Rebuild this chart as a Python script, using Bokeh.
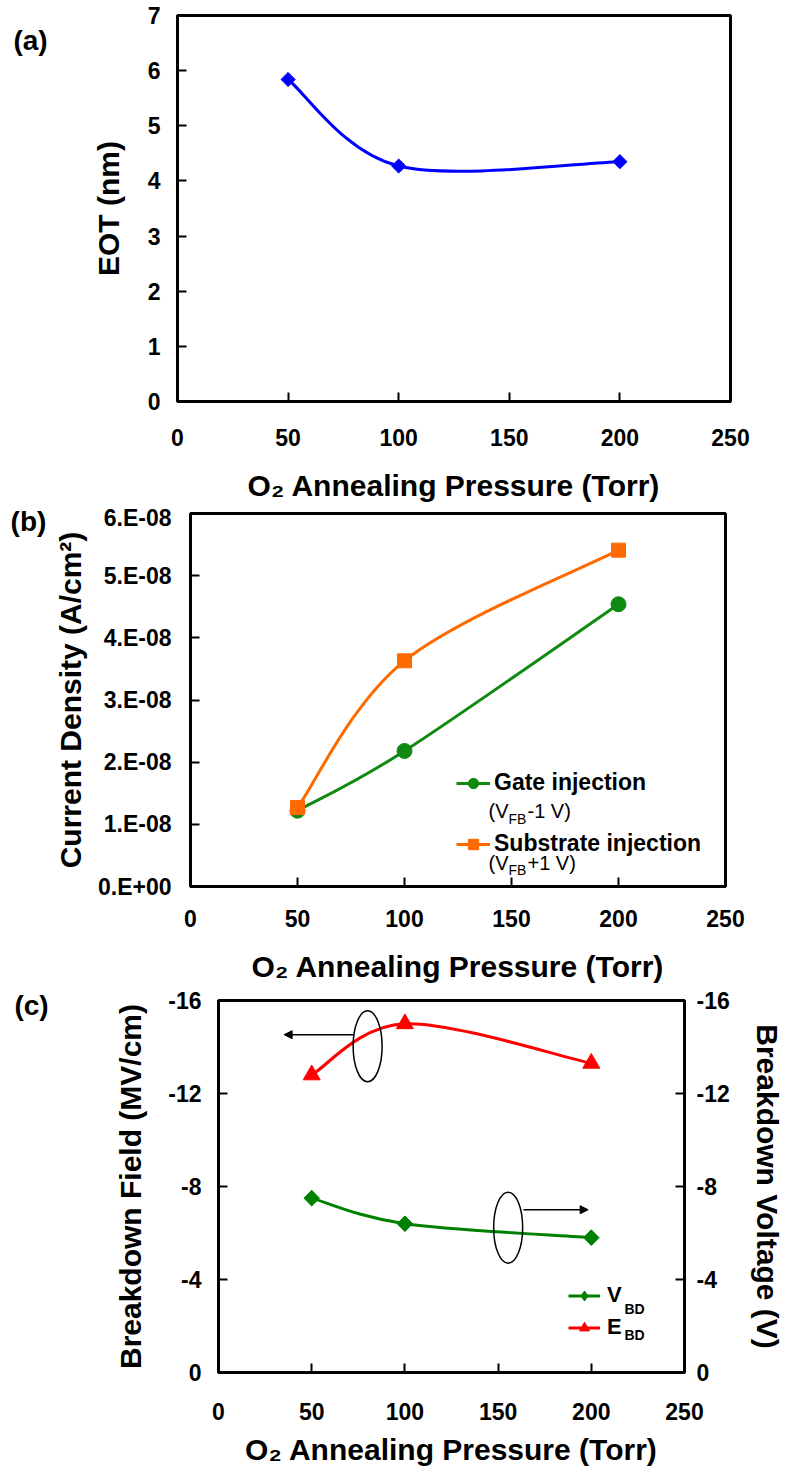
import numpy as np
from bokeh.plotting import figure
from bokeh.models import (Range1d, FixedTicker, LinearAxis, Label, Legend, LegendItem,
                          Arrow, NormalHead, CustomJSTickFormatter, ColumnDataSource)
from bokeh.embed import file_html
from bokeh.resources import INLINE

FONT = "Liberation Sans"

# ---------------- data ----------------
pressure = [50, 100, 200]                  # O2 annealing pressure (Torr)
eot_nm = [5.84, 4.27, 4.35]                # (a) EOT
j_gate = [1.22e-8, 2.18e-8, 4.54e-8]       # (b) gate injection
j_sub = [1.27e-8, 3.63e-8, 5.41e-8]        # (b) substrate injection
e_bd = [-12.8, -15.0, -13.3]               # (c) breakdown field (MV/cm)
v_bd = [-7.5, -6.4, -5.8]                  # (c) breakdown voltage (V)

x_ticks = [0, 50, 100, 150, 200, 250]
eot_ticks = [0, 1, 2, 3, 4, 5, 6, 7]
j_ticks = [0, 1e-8, 2e-8, 3e-8, 4e-8, 5e-8, 6e-8]
bd_ticks = [-16, -12, -8, -4, 0]

# annotation ellipses / arrows in panel (c)
ell_x = [80.0, 155.4]
ell_y = [-14.03, -6.23]
arr_x_start = [72.2, 163.6]
arr_x_end = [35.2, 198.3]
arr_y = [-14.53, -7.0]


def smooth_source(xs, ys):
    """Bezier segments (Excel-like smoothed line) through the data points."""
    n = len(xs)
    d = {k: [] for k in ("x0", "y0", "x1", "y1", "cx0", "cy0", "cx1", "cy1")}
    for i in range(n - 1):
        ia = max(i - 1, 0)
        ib = min(i + 2, n - 1)
        d["x0"].append(xs[i]); d["y0"].append(ys[i])
        d["x1"].append(xs[i + 1]); d["y1"].append(ys[i + 1])
        d["cx0"].append(xs[i] + (xs[i + 1] - xs[ia]) / 6.0)
        d["cy0"].append(ys[i] + (ys[i + 1] - ys[ia]) / 6.0)
        d["cx1"].append(xs[i + 1] - (xs[ib] - xs[i]) / 6.0)
        d["cy1"].append(ys[i + 1] - (ys[ib] - ys[i]) / 6.0)
    return ColumnDataSource(d)


def smooth_line(p, xs, ys, color, **kw):
    return p.bezier(x0="x0", y0="y0", x1="x1", y1="y1", cx0="cx0", cy0="cy0",
                    cx1="cx1", cy1="cy1", source=smooth_source(xs, ys),
                    line_color=color, line_width=3, **kw)


def style(p, tick_standoff_x=23, tick_standoff_y=17, label_standoff_x=20, label_standoff_y=20):
    p.xgrid.visible = False
    p.ygrid.visible = False
    p.outline_line_color = "black"
    p.outline_line_width = 3
    p.outline_line_alpha = 1
    p.background_fill_color = "white"
    p.border_fill_color = "white"
    for ax in p.axis:
        ax.axis_line_width = 3
        ax.axis_line_color = "black"
        ax.major_tick_in = 9
        ax.major_tick_out = 0
        ax.minor_tick_in = 0
        ax.minor_tick_out = 0
        ax.major_tick_line_width = 2
        ax.major_label_text_font = FONT
        ax.major_label_text_font_style = "bold"
        ax.major_label_text_font_size = "23px"
        ax.major_label_text_color = "black"
        ax.axis_label_text_font = FONT
        ax.axis_label_text_font_style = "bold"
        ax.axis_label_text_font_size = "30px"
        ax.axis_label_text_color = "black"
    for ax in p.xaxis:
        ax.major_label_standoff = tick_standoff_x
        ax.axis_label_standoff = label_standoff_x
    for ax in p.yaxis:
        ax.major_label_standoff = tick_standoff_y
        ax.axis_label_standoff = label_standoff_y


def panel_label(p, text, x, y):
    # placed in the left side panel so that it is not clipped to the frame
    p.add_layout(Label(x=x, y=y, x_units="screen", y_units="screen", text=text,
                       text_font=FONT, text_font_style="bold", text_font_size="28px",
                       text_align="center", text_baseline="middle", text_color="black"), "left")


def small_label(p, text, x, y, size, bold=False):
    p.add_layout(Label(x=x, y=y, x_units="screen", y_units="screen", text=text,
                       text_font=FONT, text_font_style="bold" if bold else "normal",
                       text_font_size=size, text_align="left", text_baseline="middle",
                       text_color="black"))


# ---------------- panel (a) ----------------
pa = figure(width=786, height=504, x_range=Range1d(0, 250), y_range=Range1d(0, 7),
            output_backend="svg", toolbar_location=None,
            min_border_left=177, min_border_right=56, min_border_top=15, min_border_bottom=102)
pa.xaxis.ticker = FixedTicker(ticks=x_ticks)
pa.yaxis.ticker = FixedTicker(ticks=eot_ticks)
pa.xaxis.axis_label = "O₂ Annealing Pressure (Torr)"
pa.yaxis.axis_label = "EOT (nm)"
smooth_line(pa, pressure, eot_nm, "#0000FF")
pa.scatter(pressure, eot_nm, marker="square", angle=np.pi / 4, size=10,
           fill_color="#0000FF", line_color="#0000FF")
style(pa, tick_standoff_x=27, label_standoff_x=20, tick_standoff_y=17, label_standoff_y=20)
panel_label(pa, "(a)", -24, 361)

# ---------------- panel (b) ----------------
pb = figure(width=786, height=482, x_range=Range1d(0, 250), y_range=Range1d(0, 6e-8),
            output_backend="svg", toolbar_location=None,
            min_border_left=190, min_border_right=61, min_border_top=9, min_border_bottom=100)
pb.xaxis.ticker = FixedTicker(ticks=x_ticks)
pb.yaxis.ticker = FixedTicker(ticks=j_ticks)
pb.yaxis.formatter = CustomJSTickFormatter(code="""
const s = tick.toExponential(0);
const parts = s.split('e');
const e = parseInt(parts[1]);
const sign = e < 0 ? '-' : '+';
const ae = Math.abs(e);
return parts[0] + '.E' + sign + (ae < 10 ? '0' + ae : '' + ae);
""")
pb.xaxis.axis_label = "O₂ Annealing Pressure (Torr)"
pb.yaxis.axis_label = "Current Density (A/cm²)"
GREEN_B = "#118A11"
ORANGE = "#FF6A00"
lg = smooth_line(pb, pressure, j_gate, GREEN_B)
sg = pb.scatter(pressure, j_gate, marker="circle", size=15, fill_color=GREEN_B, line_color=GREEN_B)
ls = smooth_line(pb, pressure, j_sub, ORANGE)
ss = pb.scatter(pressure, j_sub, marker="square", size=14, fill_color=ORANGE, line_color=ORANGE)
style(pb, tick_standoff_x=23, label_standoff_x=20, tick_standoff_y=19, label_standoff_y=8)
leg_b = Legend(items=[LegendItem(label="Gate injection", renderers=[lg, sg]),
                      LegendItem(label="Substrate injection", renderers=[ls, ss])],
               location=(266, 29), glyph_width=34, glyph_height=26, label_height=26,
               label_standoff=4, spacing=34, padding=0, margin=0,
               label_text_font=FONT, label_text_font_style="bold", label_text_font_size="23px",
               label_text_color="black", background_fill_alpha=0, border_line_alpha=0)
pb.add_layout(leg_b)
small_label(pb, "(V", 298, 76, "20px")
small_label(pb, "FB", 318, 68, "14px")
small_label(pb, "-1 V)", 337, 76, "20px")
small_label(pb, "(V", 298, 24, "20px")
small_label(pb, "FB", 318, 17, "14px")
small_label(pb, "+1 V)", 337, 24, "20px")
panel_label(pb, "(b)", 14, 365)

# ---------------- panel (c) ----------------
pc = figure(width=786, height=482, x_range=Range1d(0, 250), y_range=Range1d(0, -16),
            output_backend="svg", toolbar_location=None,
            min_border_left=218, min_border_right=99, min_border_top=14, min_border_bottom=95)
pc.extra_y_ranges = {"vbd": Range1d(0, -16)}
pc.add_layout(LinearAxis(y_range_name="vbd", axis_label="Breakdown Voltage (V)"), "right")
pc.xaxis.ticker = FixedTicker(ticks=x_ticks)
for ax in pc.yaxis:
    ax.ticker = FixedTicker(ticks=bd_ticks)
    ax.formatter = CustomJSTickFormatter(code="return tick.toFixed(0);")
pc.xaxis.axis_label = "O₂ Annealing Pressure (Torr)"
pc.yaxis[0].axis_label = "Breakdown Field (MV/cm)"
GREEN_C = "#008000"
RED = "#FF0000"
lv = smooth_line(pc, pressure, v_bd, GREEN_C, y_range_name="vbd")
# diamond drawn for the legend sample (hidden beneath the rotated-square markers)
sv_leg = pc.scatter(pressure, v_bd, marker="diamond", size=15,
                    fill_color=GREEN_C, line_color=GREEN_C, y_range_name="vbd")
sv = pc.scatter(pressure, v_bd, marker="square", angle=np.pi / 4, size=11,
                fill_color=GREEN_C, line_color=GREEN_C, y_range_name="vbd")
le = smooth_line(pc, pressure, e_bd, RED)
se = pc.scatter(pressure, e_bd, marker="triangle", size=17, fill_color=RED, line_color=RED)
style(pc, tick_standoff_x=30, label_standoff_x=10, tick_standoff_y=17, label_standoff_y=18)
pc.yaxis[1].major_label_standoff = 12
pc.ellipse(x=ell_x, y=ell_y, width=29, height=71, width_units="screen", height_units="screen",
           fill_alpha=0, line_color="black", line_width=1.5)
arr_src = ColumnDataSource(dict(x0=arr_x_start, x1=arr_x_end, y=arr_y))
pc.add_layout(Arrow(x_start="x0", y_start="y", x_end="x1", y_end="y", source=arr_src,
                    line_color="black", line_width=1.5,
                    end=NormalHead(size=8, fill_color="black", line_color="black", line_width=1)))
leg_c = Legend(items=[LegendItem(label="V", renderers=[lv, sv_leg]),
                      LegendItem(label="E", renderers=[le, se])],
               location=(350, 32), glyph_width=32, glyph_height=25, label_height=25,
               label_standoff=7, spacing=6, padding=0, margin=0,
               label_text_font=FONT, label_text_font_style="bold", label_text_font_size="22px",
               label_text_color="black", background_fill_alpha=0, border_line_alpha=0)
pc.add_layout(leg_c)
small_label(pc, "BD", 406, 64, "14px", bold=True)
small_label(pc, "BD", 406, 38, "14px", bold=True)
panel_label(pc, "(c)", -46, 367)

open("out.html", "w").write(file_html([pa, pb, pc], INLINE))
